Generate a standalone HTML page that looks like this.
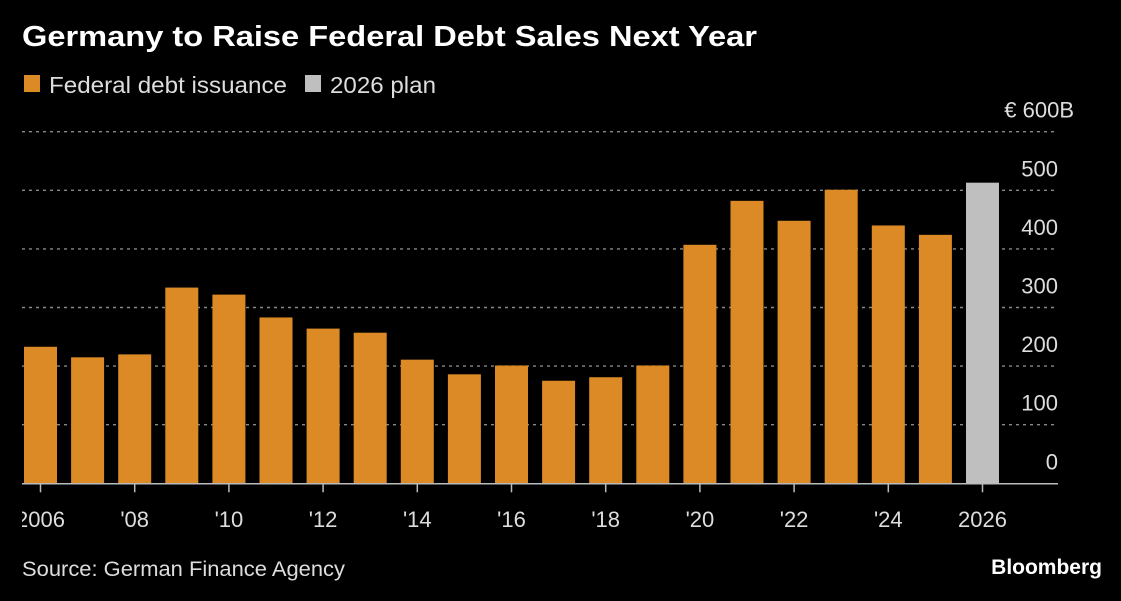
<!DOCTYPE html>
<html><head><meta charset="utf-8"><style>
html,body{margin:0;padding:0;background:#000;width:1121px;height:601px;overflow:hidden;font-family:"Liberation Sans",sans-serif;}
</style></head><body>
<svg width="1121" height="601" xmlns="http://www.w3.org/2000/svg" id="chart">
<text x="22" y="46" fill="#fff" font-size="29" font-weight="bold" textLength="735" lengthAdjust="spacingAndGlyphs">Germany to Raise Federal Debt Sales Next Year</text>
<rect x="24" y="75" width="16" height="17" fill="#db8a26"/>
<text x="49" y="93" fill="#ddd" font-size="23" textLength="238" lengthAdjust="spacingAndGlyphs">Federal debt issuance</text>
<rect x="305" y="75" width="16" height="17" fill="#bfbfbf"/>
<text x="330" y="93" fill="#ddd" font-size="23" textLength="106" lengthAdjust="spacingAndGlyphs">2026 plan</text>
<defs><clipPath id="clipx"><rect x="22" y="0" width="1100" height="601"/></clipPath></defs>
<g id="grid"></g><g id="bars"></g><g id="axis" clip-path="url(#clipx)"></g>
<text x="22" y="576" fill="#ddd" font-size="21" textLength="323" lengthAdjust="spacingAndGlyphs">Source: German Finance Agency</text>
<text x="1102" y="574" fill="#fff" font-size="21" font-weight="bold" text-anchor="end">Bloomberg</text>
</svg>
<script>
const years=[2006,2007,2008,2009,2010,2011,2012,2013,2014,2015,2016,2017,2018,2019,2020,2021,2022,2023,2024,2025,2026];
const values=[233,215,220,334,322,283,264,257,211,186,201,175,181,201,407,482,448,501,440,424,513];
const yTicks=[0,100,200,300,400,500,600];
const yTickLabels=["0","100","200","300","400","500","€ 600B"];
const xTickYears=[2006,2008,2010,2012,2014,2016,2018,2020,2022,2024,2026];
const xTickLabels=["2006","'08","'10","'12","'14","'16","'18","'20","'22","'24","2026"];
const NS="http://www.w3.org/2000/svg";
const y0=483.3,yTop=131.7;
function yS(v){return y0-(v/600)*(y0-yTop);}
function xS(yr){return 40.5+(yr-2006)*(982.5-40.5)/20;}
const grid=document.getElementById('grid'),bars=document.getElementById('bars'),axis=document.getElementById('axis');
function mk(tag,attrs,parent){const e=document.createElementNS(NS,tag);for(const k in attrs)e.setAttribute(k,attrs[k]);parent.appendChild(e);return e;}
yTicks.forEach((t,i)=>{
  if(t>0){const l=mk('line',{x1:22,x2:1058,y1:yS(t),y2:yS(t),stroke:'#888','stroke-width':1.4,'stroke-dasharray':'3,4'},grid);
  
  }
  const tx=mk('text',{x:t===600?1074:1058,y:yS(t)-14,fill:'#ddd','font-size':22,'text-anchor':'end'},grid);
  tx.textContent=yTickLabels[i];
  
  
});
years.forEach((yr,i)=>{
  const w=33;
  const r=mk('rect',{x:xS(yr)-w/2,y:yS(values[i]),width:w,height:y0-yS(values[i]),fill:yr===2026?'#bfbfbf':'#db8a26'},bars);
  
  
});
const ax=mk('line',{x1:22,x2:1058,y1:y0+0.5,y2:y0+0.5,stroke:'#bbb','stroke-width':1.5},axis);


xTickYears.forEach((yr,i)=>{
  const tk=mk('line',{x1:xS(yr),x2:xS(yr),y1:y0,y2:y0+9,stroke:'#bbb','stroke-width':1.5},axis);
  
  
  const tx=mk('text',{x:xS(yr),y:527,fill:'#ddd','font-size':22,'text-anchor':'middle'},axis);
  tx.textContent=xTickLabels[i];
  
  
});
</script>
</body></html>
